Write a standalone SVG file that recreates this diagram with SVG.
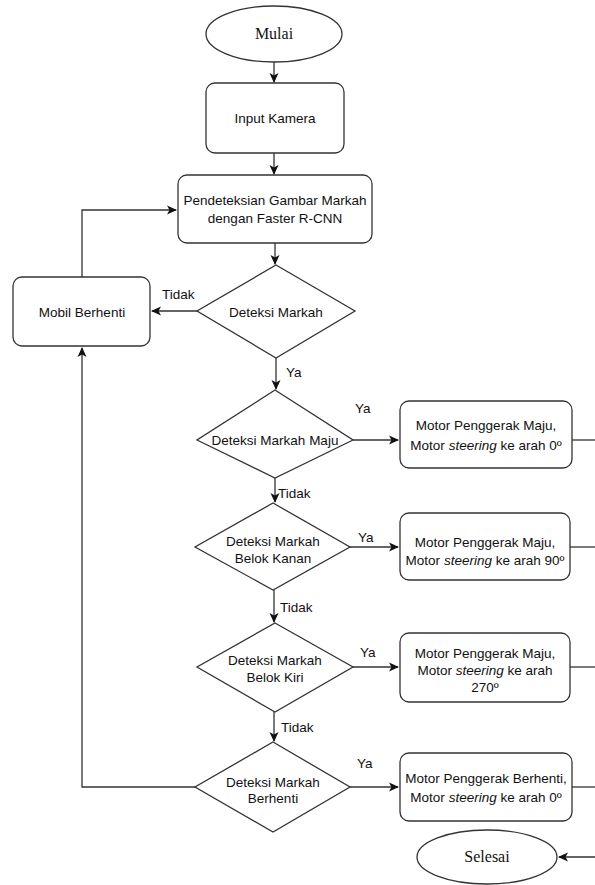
<svg xmlns="http://www.w3.org/2000/svg" width="595" height="885" viewBox="0 0 595 885">
<style>
.s{fill:#fff;stroke:#333;stroke-width:1.3}
.c{fill:none;stroke:#333;stroke-width:1.3}
.t{font-family:"Liberation Sans",Arial,sans-serif;font-size:13.5px;fill:#111;text-anchor:middle}
.l{font-family:"Liberation Sans",Arial,sans-serif;font-size:13.5px;fill:#111}
.r{font-family:"Liberation Serif","Times New Roman",serif;font-size:16px;fill:#111;text-anchor:middle}
</style>
<defs>
<marker id="a" markerWidth="11" markerHeight="11" refX="9" refY="5.5" orient="auto" markerUnits="userSpaceOnUse">
<path d="M0,1 L10,5.5 L0,10 L2.5,5.5 Z" fill="#111"/>
</marker>
</defs>
<rect width="595" height="885" fill="#fff"/>
<g id="connectors">
<path class="c" d="M274,62 V82" marker-end="url(#a)"/>
<path class="c" d="M274,153 V174" marker-end="url(#a)"/>
<path class="c" d="M275,243 V264" marker-end="url(#a)"/>
<path class="c" d="M197,311 H152" marker-end="url(#a)"/>
<path class="c" d="M82,277 V210 H176" marker-end="url(#a)"/>
<path class="c" d="M276,358 V389" marker-end="url(#a)"/>
<path class="c" d="M353,440 H398" marker-end="url(#a)"/>
<path class="c" d="M572,440 H595"/>
<path class="c" d="M275,478 V502" marker-end="url(#a)"/>
<path class="c" d="M350,547 H398" marker-end="url(#a)"/>
<path class="c" d="M570,547 H595"/>
<path class="c" d="M274,590 V622" marker-end="url(#a)"/>
<path class="c" d="M353,667 H398" marker-end="url(#a)"/>
<path class="c" d="M570,667 H595"/>
<path class="c" d="M274,712 V741" marker-end="url(#a)"/>
<path class="c" d="M350,787 H398" marker-end="url(#a)"/>
<path class="c" d="M572,787 H595"/>
<path class="c" d="M195,787 H82 V348" marker-end="url(#a)"/>
<path class="c" d="M595,857 H559" marker-end="url(#a)"/>
<text class="l" x="162" y="299">Tidak</text>
<text class="l" x="286" y="377">Ya</text>
<text class="l" x="355" y="413">Ya</text>
<text class="l" x="278" y="498">Tidak</text>
<text class="l" x="358" y="542">Ya</text>
<text class="l" x="280" y="612">Tidak</text>
<text class="l" x="360" y="657">Ya</text>
<text class="l" x="281" y="732">Tidak</text>
<text class="l" x="357" y="768">Ya</text>
</g>
<g id="mulai">
<ellipse class="s" cx="274" cy="34" rx="68" ry="28"/>
<text class="r" x="274" y="39">Mulai</text>
</g>
<g id="input">
<rect class="s" x="206" y="83" width="138" height="70" rx="9"/>
<text class="t" x="275" y="123">Input Kamera</text>
</g>
<g id="deteksi-gambar">
<rect class="s" x="178" y="175" width="194" height="68" rx="9"/>
<text class="t" x="275" y="205">Pendeteksian Gambar Markah</text>
<text class="t" x="275" y="223">dengan Faster R-CNN</text>
</g>
<g id="mobil-berhenti">
<rect class="s" x="13" y="277" width="137" height="69" rx="9"/>
<text class="t" x="82" y="317">Mobil Berhenti</text>
</g>
<g id="d1">
<path class="s" d="M276,265 L355,311 L276,358 L197,311 Z"/>
<text class="t" x="276" y="317">Deteksi Markah</text>
</g>
<g id="d2">
<path class="s" d="M275,390 L353,440 L275,478 L197,440 Z"/>
<text class="t" x="275" y="445">Deteksi Markah Maju</text>
</g>
<g id="b2">
<rect class="s" x="400" y="401" width="172" height="67" rx="9"/>
<text class="t" x="486" y="430">Motor Penggerak Maju,</text>
<text class="t" x="486" y="450">Motor <tspan font-style="italic">steering</tspan> ke arah 0º</text>
</g>
<g id="d3">
<path class="s" d="M273,503 L350,547 L273,590 L195,547 Z"/>
<text class="t" x="273" y="546">Deteksi Markah</text>
<text class="t" x="273" y="563">Belok Kanan</text>
</g>
<g id="b3">
<rect class="s" x="400" y="513" width="170" height="67" rx="9"/>
<text class="t" x="485" y="547">Motor Penggerak Maju,</text>
<text class="t" x="485" y="565">Motor <tspan font-style="italic">steering</tspan> ke arah 90º</text>
</g>
<g id="d4">
<path class="s" d="M275,623 L353,667 L275,712 L197,667 Z"/>
<text class="t" x="275" y="665">Deteksi Markah</text>
<text class="t" x="275" y="682">Belok Kiri</text>
</g>
<g id="b4">
<rect class="s" x="400" y="633" width="170" height="69" rx="9"/>
<text class="t" x="485" y="658">Motor Penggerak Maju,</text>
<text class="t" x="485" y="675">Motor <tspan font-style="italic">steering</tspan> ke arah</text>
<text class="t" x="485" y="692">270º</text>
</g>
<g id="d5">
<path class="s" d="M273,742 L350,787 L273,832 L195,787 Z"/>
<text class="t" x="273" y="787">Deteksi Markah</text>
<text class="t" x="273" y="803">Berhenti</text>
</g>
<g id="b5">
<rect class="s" x="400" y="753" width="172" height="68" rx="9"/>
<text class="t" x="486" y="783">Motor Penggerak Berhenti,</text>
<text class="t" x="486" y="802">Motor <tspan font-style="italic">steering</tspan> ke arah 0º</text>
</g>
<g id="selesai">
<ellipse class="s" cx="487" cy="857" rx="70" ry="27"/>
<text class="r" x="487" y="862">Selesai</text>
</g>
</svg>
